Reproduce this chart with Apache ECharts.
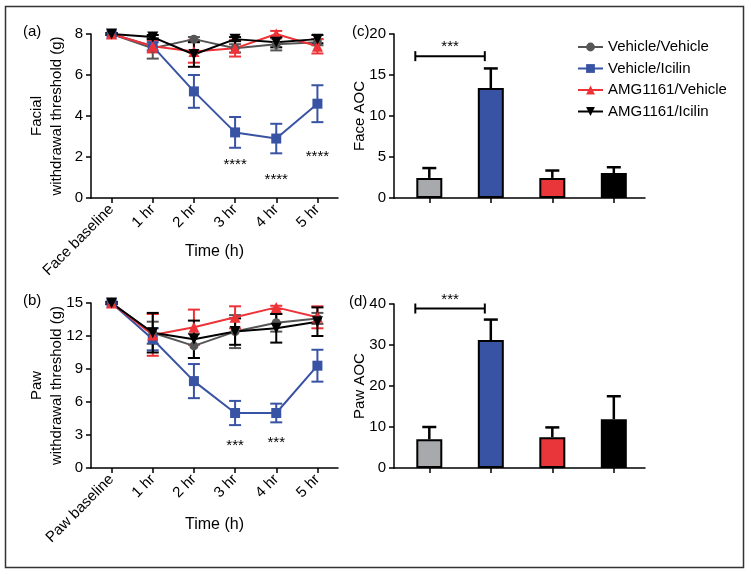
<!DOCTYPE html>
<html><head><meta charset="utf-8">
<script src="https://cdn.jsdelivr.net/npm/echarts@6/dist/echarts.min.js"></script>
<style>html,body{margin:0;padding:0;background:#fff}#c{width:751px;height:574px}</style>
</head><body><div id="c"></div>
<script>
// ---------- data ----------
const groups = ['Vehicle/Vehicle', 'Vehicle/Icilin', 'AMG1161/Vehicle', 'AMG1161/Icilin'];
const faceCats = ['Face baseline', '1 hr', '2 hr', '3 hr', '4 hr', '5 hr'];
const pawCats = ['Paw baseline', '1 hr', '2 hr', '3 hr', '4 hr', '5 hr'];

// (a) facial withdrawal threshold (g): mean and SEM
const faceVehVeh = [8, 7.3, 7.75, 7.3, 7.5, 7.6];
const faceVehVehErr = [0.05, 0.5, 0.1, 0.2, 0.3, 0.15];
const faceVehIci = [8, 7.4, 5.2, 3.2, 2.9, 4.6];
const faceVehIciErr = [0.05, 0.2, 0.8, 0.75, 0.72, 0.9];
const faceAmgVeh = [8, 7.4, 7.15, 7.3, 8.0, 7.4];
const faceAmgVehErr = [0.05, 0.3, 0.55, 0.4, 0.15, 0.35];
const faceAmgIci = [8, 7.85, 7.0, 7.75, 7.6, 7.75];
const faceAmgIciErr = [0.05, 0.1, 0.6, 0.1, 0.25, 0.2];

// (b) paw withdrawal threshold (g): mean and SEM
const pawVehVeh = [15, 12.3, 11.1, 12.4, 13.2, 13.6];
const pawVehVehErr = [0.1, 1.0, 1.1, 1.5, 0.8, 0.5];
const pawVehIci = [15, 11.7, 7.9, 5.0, 5.0, 9.3];
const pawVehIciErr = [0.1, 1.0, 1.55, 1.1, 0.85, 1.45];
const pawAmgVeh = [15, 12.1, 12.8, 13.7, 14.6, 13.7];
const pawAmgVehErr = [0.1, 1.9, 1.6, 1.0, 0.15, 1.0];
const pawAmgIci = [15, 12.3, 11.7, 12.4, 12.7, 13.3];
const pawAmgIciErr = [0.1, 1.8, 1.7, 1.2, 1.3, 1.3];

// (c), (d) area over curve (bars at positions 0..3)
const barPos = [0, 1, 2, 3];
const faceAOC = [2.45, 13.4, 2.45, 3.05];
const faceAOCErr = [1.2, 2.4, 0.9, 0.7];
const pawAOC = [7.0, 31.2, 7.5, 11.9];
const pawAOCErr = [3.0, 5.0, 2.4, 5.6];

// significance annotations
const faceStarCats = ['3 hr', '4 hr', '5 hr'];
const faceStarVals = [1.62, 0.9, 2.0];
const faceStarText = '****';
const pawStarCats = ['3 hr', '4 hr'];
const pawStarVals = [2.0, 2.25];
const pawStarText = '***';
const faceBracket = [0, 1, 17.3];
const pawBracket = [0, 1, 38.9];
const bracketText = '***';

// y axis ticks [min, max, interval]
const faceTicks = [0, 8, 2];
const pawTicks = [0, 15, 3];
const faceAOCTicks = [0, 20, 5];
const pawAOCTicks = [0, 40, 10];
// bar x axis extent (in bar-position units)
const barAxisRange = [-0.574, 3.507];

// ---------- styling ----------
const FONT = '"Liberation Sans", Arial, Helvetica, sans-serif';
const lineColors = ['#555555', '#3953a4', '#ee3338', '#000000'];
const symbols = ['circle', 'rect', 'triangle', 'triangle'];
const symbolRot = [0, 0, 0, 180];
const symbolSizes = [9, 10, 11, 11];
const barColors = ['#a7a9ac', '#3953a4', '#e8363a', '#000000'];

const faceMeans = [faceVehVeh, faceVehIci, faceAmgVeh, faceAmgIci];
const faceErrs = [faceVehVehErr, faceVehIciErr, faceAmgVehErr, faceAmgIciErr];
const pawMeans = [pawVehVeh, pawVehIci, pawAmgVeh, pawAmgIci];
const pawErrs = [pawVehVehErr, pawVehIciErr, pawAmgVehErr, pawAmgIciErr];

const axisLineStyle = {color: '#000', width: 1.5};

function xCat(grid, cats, nameGap) {
  return {
    type: 'category', gridIndex: grid, data: cats, boundaryGap: true,
    axisLine: {show: true, onZero: false, lineStyle: axisLineStyle},
    axisTick: {show: true, alignWithLabel: true, length: 5, lineStyle: axisLineStyle},
    axisLabel: {show: true, rotate: 45, interval: 0, color: '#000', fontSize: 15, fontFamily: FONT, margin: 9},
    splitLine: {show: false},
    name: 'Time (h)', nameLocation: 'middle', nameGap: nameGap, nameMoveOverlap: false,
    nameTextStyle: {fontSize: 16, color: '#000', fontFamily: FONT}
  };
}
function xBar(grid) {
  return {
    type: 'value', gridIndex: grid, min: barAxisRange[0], max: barAxisRange[1],
    axisLine: {show: true, onZero: false, lineStyle: axisLineStyle},
    axisTick: {show: true, length: 5, customValues: barPos, lineStyle: axisLineStyle},
    axisLabel: {show: false, customValues: barPos},
    splitLine: {show: false}
  };
}
function yVal(grid, ticks, name) {
  return {
    type: 'value', gridIndex: grid, min: ticks[0], max: ticks[1], interval: ticks[2],
    axisLine: {show: true, onZero: false, lineStyle: axisLineStyle},
    axisTick: {show: true, length: 5, lineStyle: axisLineStyle},
    axisLabel: {color: '#000', fontSize: 15, fontFamily: FONT, margin: 8},
    splitLine: {show: false},
    name: name, nameLocation: 'middle', nameGap: 24, nameRotate: 90, nameMoveOverlap: false,
    nameTextStyle: {fontSize: 15, lineHeight: 20, color: '#000', fontFamily: FONT, align: 'center'}
  };
}

function errRender(color, capW, width, upOnly) {
  return function (params, api) {
    const x = api.value(0), lo = api.value(1), hi = api.value(2);
    const pLo = api.coord([x, lo]), pHi = api.coord([x, hi]);
    const style = {stroke: color, lineWidth: width};
    const ch = [
      {type: 'line', shape: {x1: pLo[0], y1: pLo[1], x2: pHi[0], y2: pHi[1]}, style: style},
      {type: 'line', shape: {x1: pHi[0] - capW / 2, y1: pHi[1], x2: pHi[0] + capW / 2, y2: pHi[1]}, style: style}
    ];
    if (!upOnly) ch.push({type: 'line', shape: {x1: pLo[0] - capW / 2, y1: pLo[1], x2: pLo[0] + capW / 2, y2: pLo[1]}, style: style});
    return {type: 'group', children: ch};
  };
}
function textRender(txt) {
  return function (params, api) {
    const p = api.coord([api.value(0), api.value(1)]);
    return {type: 'text', x: p[0], y: p[1],
      style: {text: txt, fill: '#000', fontSize: 15, fontFamily: FONT, align: 'center', verticalAlign: 'middle', textAlign: 'center', textVerticalAlign: 'middle'}};
  };
}
function bracketRender(params, api) {
  const a = api.coord([api.value(0), api.value(2)]);
  const b = api.coord([api.value(1), api.value(2)]);
  const x1 = a[0] - 14, x2 = b[0] - 6, y = a[1];
  const st = {stroke: '#000', lineWidth: 2};
  return {type: 'group', children: [
    {type: 'line', shape: {x1: x1, y1: y, x2: x2, y2: y}, style: st},
    {type: 'line', shape: {x1: x1, y1: y - 5, x2: x1, y2: y + 5}, style: st},
    {type: 'line', shape: {x1: x2, y1: y - 5, x2: x2, y2: y + 5}, style: st},
    {type: 'text', x: (x1 + x2) / 2, y: y - 9, style: {text: bracketText, fill: '#000', fontSize: 15, fontFamily: FONT, align: 'center', verticalAlign: 'middle', textAlign: 'center', textVerticalAlign: 'middle'}}
  ]};
}

const series = [];
function addLinePanel(grid, means, errs) {
  for (let g = 0; g < 4; g++) {
    series.push({
      type: 'custom', xAxisIndex: grid, yAxisIndex: grid,
      renderItem: errRender(lineColors[g], 12, 2, false),
      data: means[g].map((m, i) => [i, m - errs[g][i], m + errs[g][i]]),
      encode: {x: 0, y: [1, 2]}, silent: true
    });
    series.push({
      type: 'line', name: groups[g], xAxisIndex: grid, yAxisIndex: grid,
      data: means[g], symbol: symbols[g], symbolRotate: symbolRot[g], symbolSize: symbolSizes[g],
      showSymbol: true, color: lineColors[g],
      itemStyle: {color: lineColors[g]}, lineStyle: {color: lineColors[g], width: 2}
    });
  }
}
addLinePanel(0, faceMeans, faceErrs);
addLinePanel(1, pawMeans, pawErrs);

series.push({type: 'custom', xAxisIndex: 0, yAxisIndex: 0, renderItem: textRender(faceStarText),
  data: faceStarCats.map((c, i) => [faceCats.indexOf(c), faceStarVals[i]]), encode: {x: 0, y: 1}, silent: true});
series.push({type: 'custom', xAxisIndex: 1, yAxisIndex: 1, renderItem: textRender(pawStarText),
  data: pawStarCats.map((c, i) => [pawCats.indexOf(c), pawStarVals[i]]), encode: {x: 0, y: 1}, silent: true});

function addBarPanel(grid, vals, errs, bracket) {
  series.push({
    type: 'bar', xAxisIndex: grid, yAxisIndex: grid, barWidth: 26,
    data: vals.map((v, i) => ({value: [barPos[i], v], itemStyle: {color: barColors[i], borderColor: '#000', borderWidth: 2}})),
    silent: true
  });
  series.push({
    type: 'custom', xAxisIndex: grid, yAxisIndex: grid,
    renderItem: errRender('#000', 14, 2.5, true),
    data: vals.map((v, i) => [barPos[i], v, v + errs[i]]), encode: {x: 0, y: [1, 2]}, silent: true
  });
  series.push({
    type: 'custom', xAxisIndex: grid, yAxisIndex: grid, renderItem: bracketRender,
    data: [bracket], encode: {x: [0, 1], y: 2}, silent: true
  });
}
addBarPanel(2, faceAOC, faceAOCErr, faceBracket);
addBarPanel(3, pawAOC, pawAOCErr, pawBracket);

const labelStyle = {fontSize: 15, fill: '#000', fontFamily: FONT};
const option = {
  animation: false,
  backgroundColor: '#fff',
  grid: [
    {left: 91, top: 34, width: 247, height: 164},
    {left: 91, top: 303, width: 247, height: 165},
    {left: 394, top: 34, width: 251, height: 164},
    {left: 394, top: 304, width: 251, height: 164}
  ],
  xAxis: [
    xCat(0, faceCats, 46),
    xCat(1, pawCats, 49),
    xBar(2),
    xBar(3)
  ],
  yAxis: [
    yVal(0, faceTicks, 'Facial\nwithdrawal threshold (g)'),
    yVal(1, pawTicks, 'Paw\nwithdrawal threshold (g)'),
    yVal(2, faceAOCTicks, 'Face AOC'),
    yVal(3, pawAOCTicks, 'Paw AOC')
  ],
  legend: {
    data: groups, orient: 'vertical', left: 577, top: 39, padding: 0,
    itemWidth: 25, itemHeight: 11, itemGap: 5.5,
    textStyle: {fontSize: 15, color: '#000', fontFamily: FONT, lineHeight: 16},
    selectedMode: false
  },
  graphic: [
    {type: 'rect', left: 3, top: 4, shape: {width: 738, height: 561}, style: {fill: 'none', stroke: '#333', lineWidth: 1.5}, silent: true},
    {type: 'text', left: 23, top: 24, style: Object.assign({text: '(a)'}, labelStyle)},
    {type: 'text', left: 23, top: 293, style: Object.assign({text: '(b)'}, labelStyle)},
    {type: 'text', left: 352, top: 24, style: Object.assign({text: '(c)'}, labelStyle)},
    {type: 'text', left: 349, top: 294, style: Object.assign({text: '(d)'}, labelStyle)}
  ],
  series: series
};
const chart = echarts.init(document.getElementById('c'));
chart.setOption(option);
</script>
</body></html>
